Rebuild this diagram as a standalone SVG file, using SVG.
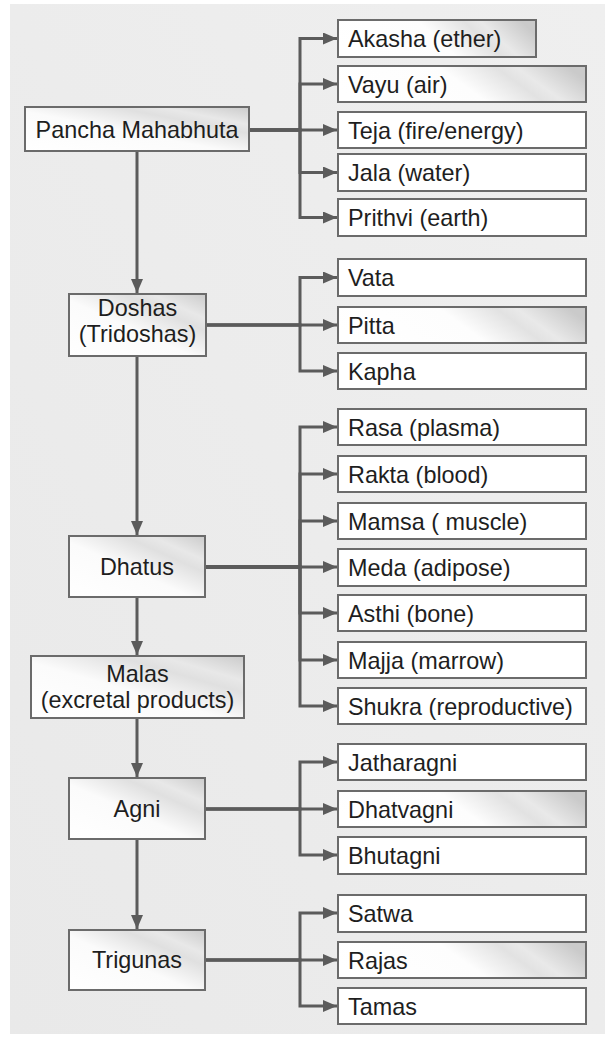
<svg xmlns="http://www.w3.org/2000/svg" width="607" height="1037" viewBox="0 0 607 1037">
<defs>
<linearGradient id="bg" x1="0" y1="1" x2="1" y2="0">
<stop offset="0" stop-color="#e9e9e9"/>
<stop offset="1" stop-color="#efefef"/>
</linearGradient>
<linearGradient id="gL" x1="0" y1="1" x2="1" y2="0">
<stop offset="0" stop-color="#ffffff"/>
<stop offset="0.45" stop-color="#fbfbfb"/>
<stop offset="0.7" stop-color="#e0e0e0"/>
<stop offset="0.8" stop-color="#e8e8e8"/>
<stop offset="1" stop-color="#cbcbcb"/>
</linearGradient>
<linearGradient id="gR" x1="0" y1="0.6" x2="1" y2="0.4">
<stop offset="0" stop-color="#ffffff"/>
<stop offset="0.5" stop-color="#fdfdfd"/>
<stop offset="0.72" stop-color="#e2e2e2"/>
<stop offset="0.8" stop-color="#e9e9e9"/>
<stop offset="1" stop-color="#cacaca"/>
</linearGradient>
<marker id="ah" markerUnits="userSpaceOnUse" markerWidth="14" markerHeight="12" refX="14" refY="6" orient="auto">
<path d="M0,0 L14,6 L0,12 z" fill="#5b5b5b"/>
</marker>
<style>
.b{fill:#ffffff;stroke:#6b6b6b;stroke-width:2}
.bg{fill:url(#gR);stroke:#6b6b6b;stroke-width:2}
.bl{fill:url(#gL);stroke:#6b6b6b;stroke-width:2}
.t{font-family:"Liberation Sans",Arial,sans-serif;font-size:23.4px;fill:#1e1e1e}
.c{text-anchor:middle}
.k{fill:none;stroke:#5b5b5b;stroke-width:3;marker-end:url(#ah)}
</style>
</defs>
<rect x="10" y="4" width="595" height="1030" fill="url(#bg)"/>

<g id="connectors">
<path class="k" d="M249,130 H300 V38.5 H337"/>
<path class="k" d="M249,130 H300 V84 H337"/>
<path class="k" d="M249,130 H337"/>
<path class="k" d="M249,130 H300 V172.5 H337"/>
<path class="k" d="M249,130 H300 V217.5 H337"/>
<path class="k" d="M137,151 V293"/>

<path class="k" d="M206,325 H300 V277.5 H337"/>
<path class="k" d="M206,325 H337"/>
<path class="k" d="M206,325 H300 V371 H337"/>
<path class="k" d="M137,356 V535"/>

<path class="k" d="M205,567 H300 V427 H337"/>
<path class="k" d="M205,567 H300 V474 H337"/>
<path class="k" d="M205,567 H300 V521 H337"/>
<path class="k" d="M205,567 H337"/>
<path class="k" d="M205,567 H300 V613 H337"/>
<path class="k" d="M205,567 H300 V660 H337"/>
<path class="k" d="M205,567 H300 V706 H337"/>
<path class="k" d="M137,597 V655"/>
<path class="k" d="M137,718 V777"/>

<path class="k" d="M205,809 H300 V762 H337"/>
<path class="k" d="M205,809 H337"/>
<path class="k" d="M205,809 H300 V855 H337"/>
<path class="k" d="M137,839 V929"/>

<path class="k" d="M205,960 H300 V913 H337"/>
<path class="k" d="M205,960 H337"/>
<path class="k" d="M205,960 H300 V1006 H337"/>
</g>

<g id="pancha"><rect class="bl" x="25" y="107" width="224" height="44"/><text class="t c" x="137" y="137.5">Pancha Mahabhuta</text></g>
<g id="akasha"><rect class="bg" x="338" y="20" width="198" height="37"/><text class="t" x="348" y="46.5">Akasha (ether)</text></g>
<g id="vayu"><rect class="bg" x="338" y="66" width="248" height="36"/><text class="t" x="348" y="92.5">Vayu (air)</text></g>
<g id="teja"><rect class="b" x="338" y="112" width="248" height="36"/><text class="t" x="348" y="138.5">Teja (fire/energy)</text></g>
<g id="jala"><rect class="b" x="338" y="154" width="248" height="37"/><text class="t" x="348" y="180.5">Jala (water)</text></g>
<g id="prithvi"><rect class="b" x="338" y="199" width="248" height="37"/><text class="t" x="348" y="225.5">Prithvi (earth)</text></g>

<g id="doshas"><rect class="bl" x="69" y="294" width="137" height="62"/><text class="t c" x="137.5" y="316">Doshas</text><text class="t c" x="137.5" y="342">(Tridoshas)</text></g>
<g id="vata"><rect class="b" x="338" y="259" width="248" height="37"/><text class="t" x="348" y="285.5">Vata</text></g>
<g id="pitta"><rect class="bg" x="338" y="307" width="248" height="36"/><text class="t" x="348" y="333.5">Pitta</text></g>
<g id="kapha"><rect class="b" x="338" y="353" width="248" height="36"/><text class="t" x="348" y="379.5">Kapha</text></g>

<g id="dhatus"><rect class="bl" x="69" y="536" width="136" height="61"/><text class="t c" x="137" y="574.5">Dhatus</text></g>
<g id="rasa"><rect class="b" x="338" y="409" width="248" height="36"/><text class="t" x="348" y="435.5">Rasa (plasma)</text></g>
<g id="rakta"><rect class="b" x="338" y="456" width="248" height="36"/><text class="t" x="348" y="482.5">Rakta (blood)</text></g>
<g id="mamsa"><rect class="b" x="338" y="503" width="248" height="36"/><text class="t" x="348" y="529.5">Mamsa ( muscle)</text></g>
<g id="meda"><rect class="b" x="338" y="549" width="248" height="37"/><text class="t" x="348" y="575.5">Meda (adipose)</text></g>
<g id="asthi"><rect class="b" x="338" y="595" width="248" height="36"/><text class="t" x="348" y="621.5">Asthi (bone)</text></g>
<g id="majja"><rect class="b" x="338" y="642" width="248" height="36"/><text class="t" x="348" y="668.5">Majja (marrow)</text></g>
<g id="shukra"><rect class="b" x="338" y="688" width="248" height="36"/><text class="t" x="348" y="714.5">Shukra (reproductive)</text></g>

<g id="malas"><rect class="bl" x="31" y="656" width="213" height="62"/><text class="t c" x="137.5" y="682">Malas</text><text class="t c" x="137.5" y="708">(excretal products)</text></g>

<g id="agni"><rect class="bl" x="69" y="778" width="136" height="61"/><text class="t c" x="137" y="816.5">Agni</text></g>
<g id="jatharagni"><rect class="b" x="338" y="744" width="248" height="36"/><text class="t" x="348" y="770.5">Jatharagni</text></g>
<g id="dhatvagni"><rect class="bg" x="338" y="791" width="248" height="36"/><text class="t" x="348" y="817.5">Dhatvagni</text></g>
<g id="bhutagni"><rect class="b" x="338" y="837" width="248" height="37"/><text class="t" x="348" y="863.5">Bhutagni</text></g>

<g id="trigunas"><rect class="bl" x="69" y="930" width="136" height="60"/><text class="t c" x="137" y="967.5">Trigunas</text></g>
<g id="satwa"><rect class="b" x="338" y="895" width="248" height="37"/><text class="t" x="348" y="921.5">Satwa</text></g>
<g id="rajas"><rect class="bg" x="338" y="942" width="248" height="36"/><text class="t" x="348" y="968.5">Rajas</text></g>
<g id="tamas"><rect class="b" x="338" y="988" width="248" height="36"/><text class="t" x="348" y="1014.5">Tamas</text></g>
</svg>
